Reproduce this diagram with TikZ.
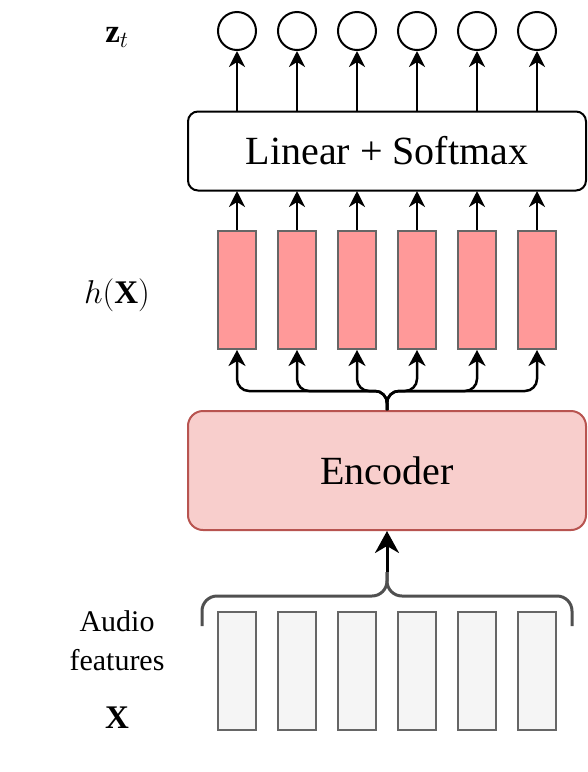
\RequirePackage{fix-cm}
\documentclass[tikz,border=0pt]{standalone}
\usepackage{fontspec}
\setmainfont{Liberation Serif}
\usetikzlibrary{arrows.meta}
\definecolor{redfill}{HTML}{FF9999}
\definecolor{boxstroke}{HTML}{666666}
\definecolor{grayfill}{HTML}{F5F5F5}
\definecolor{encfill}{HTML}{F8CECC}
\definecolor{encstroke}{HTML}{B85450}
\definecolor{bracecol}{HTML}{505050}
\begin{document}
\begin{tikzpicture}[x=1pt,y=-1pt,
  outnode/.style={circle,draw=black,line width=2pt,minimum size=38pt,inner sep=0pt},
  hidbox/.style={rectangle,draw=boxstroke,fill=redfill,line width=2pt,minimum width=38pt,minimum height=118pt,inner sep=0pt},
  featbox/.style={rectangle,draw=boxstroke,fill=grayfill,line width=2pt,minimum width=38pt,minimum height=118pt,inner sep=0pt},
  arr/.style={line width=2pt,-{Stealth[length=16pt,width=16pt,inset=5pt]}},
  brancharr/.style={line width=2.5pt,rounded corners=12pt,-{Stealth[length=16pt,width=17pt,inset=5pt]}},
  bigarr/.style={line width=3pt,-{Stealth[length=22pt,width=24pt,inset=7pt]}},
  bigtext/.style={font=\fontsize{40}{46}\selectfont},
  mathlabel/.style={font=\fontsize{33}{38}\selectfont},
  sidetext/.style={font=\fontsize{30}{39}\selectfont,align=center}
]
\useasboundingbox (0,0) rectangle (588,772);

% Linear + Softmax box
\node[draw=black,fill=white,line width=2pt,rounded corners=10pt,minimum width=398pt,minimum height=79pt,inner sep=0pt,bigtext] (lin) at (387,151) {Linear + Softmax};

% Encoder
\node[draw=encstroke,fill=encfill,line width=2pt,rounded corners=15pt,minimum width=398pt,minimum height=119pt,inner sep=0pt,bigtext] (enc) at (387,470.5) {Encoder};

\foreach \i/\x in {1/237,2/297,3/357,4/417,5/477,6/537}{
  \node[outnode] (z\i) at (\x,31) {};
  \node[hidbox] (h\i) at (\x,290) {};
  \node[featbox] (f\i) at (\x,670.5) {};
  \coordinate (lt\i) at (\x,111);
  \coordinate (lb\i) at (\x,191);
  \draw[arr] (lt\i) -- (z\i.south);
  \draw[arr] (h\i.north) -- (lb\i);
}

% branching arrows from encoder
\coordinate (trunk) at (387,410);
\foreach \i/\x in {1/237,2/297,3/357,4/417,5/477,6/537}{
  \draw[brancharr] (trunk) -- (387,391) -- (\x,391) -- (h\i.south);
}

% brace over features
\coordinate (bl) at (202,626);
\coordinate (br) at (572,626);
\coordinate (btop) at (387,572);
\draw[bracecol,line width=3pt,rounded corners=15pt] (bl) -- (202,596) -- (387,596) -- (btop);
\draw[bracecol,line width=3pt,rounded corners=15pt] (br) -- (572,596) -- (387,596) -- (btop);
\draw[bigarr] (btop) -- (enc.south);

% side labels
\node[mathlabel] (zl) at (117,37) {$\mathbf{z}_t$};
\node[mathlabel] (hl) at (117,295) {$h(\mathbf{X})$};
\node[sidetext] (al) at (117,641) {Audio\\features};
\node[mathlabel] (xl) at (117,718) {$\mathbf{X}$};
\end{tikzpicture}
\end{document}
